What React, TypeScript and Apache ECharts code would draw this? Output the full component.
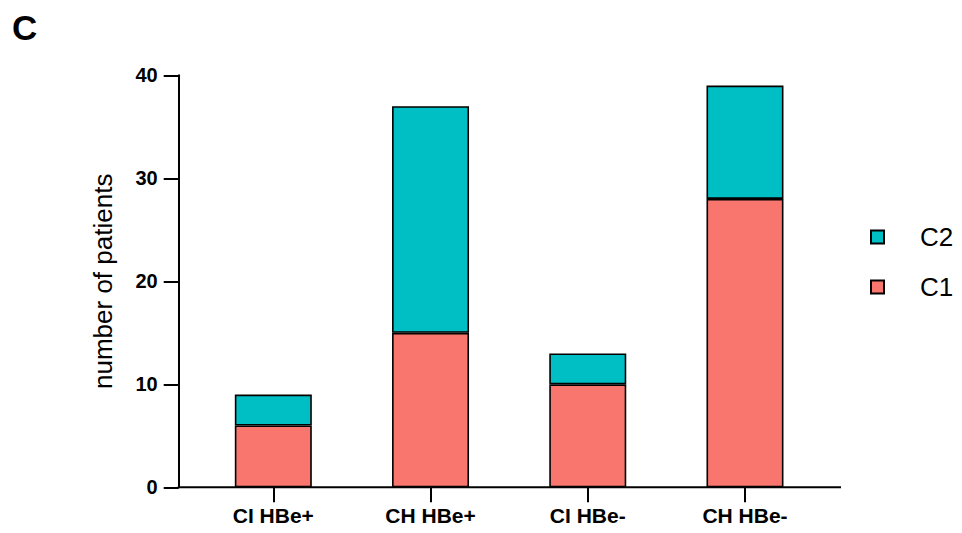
import React, { useEffect, useRef } from "react";
import * as echarts from "echarts";

const categories = ["CI HBe+", "CH HBe+", "CI HBe-", "CH HBe-"];
const c1Values = [6, 15, 10, 28];
const c2Values = [3, 22, 3, 11];
const yTicks = [0, 10, 20, 30, 40];
const legendOrder = ["C2", "C1"];

const FONT = "'Liberation Sans', Arial, Helvetica, sans-serif";

const GRID_LEFT = 194.7;
const GRID_RIGHT = 138.4;
const GRID_TOP = 75.3;
const GRID_BOTTOM = 45.7;
const AXIS_X0 = 178.7;
const AXIS_X1 = 841;

export default function App() {
  const ref = useRef<HTMLDivElement>(null);
  useEffect(() => {
    if (!ref.current) return;
    const chart = echarts.init(ref.current, null, { renderer: "svg" });
    const axisY = 533 - GRID_BOTTOM;
    chart.setOption({
      animation: false,
      backgroundColor: "#ffffff",
      title: {
        text: "C",
        left: 7,
        top: 5,
        textStyle: { fontFamily: FONT, fontWeight: "bold", fontSize: 35, color: "#000" },
      },
      legend: {
        data: legendOrder,
        orient: "vertical",
        left: 865,
        top: 219,
        itemWidth: 13,
        itemHeight: 13,
        itemGap: 24,
        icon: "rect",
        textStyle: {
          fontFamily: FONT,
          fontSize: 26,
          lineHeight: 26,
          color: "#000",
          padding: [0, 0, 0, 31],
        },
      },
      grid: { left: GRID_LEFT, right: GRID_RIGHT, top: GRID_TOP, bottom: GRID_BOTTOM, containLabel: false },
      graphic: [
        {
          type: "line",
          shape: { x1: AXIS_X0 - 1, y1: axisY, x2: AXIS_X1, y2: axisY },
          style: { stroke: "#000", lineWidth: 2 },
          z: 10,
        },
      ],
      xAxis: {
        type: "category",
        data: categories,
        axisLine: { show: false },
        axisTick: {
          show: true,
          alignWithLabel: true,
          length: 15,
          lineStyle: { color: "#000", width: 2 },
        },
        axisLabel: {
          fontFamily: FONT,
          fontWeight: "bold",
          fontSize: 21,
          color: "#000",
          margin: 18,
        },
      },
      yAxis: {
        type: "value",
        min: yTicks[0],
        max: yTicks[yTicks.length - 1],
        interval: 10,
        offset: GRID_LEFT - AXIS_X0,
        name: "number of patients",
        nameLocation: "middle",
        nameRotate: 90,
        nameGap: 79 - (GRID_LEFT - AXIS_X0),
        nameTextStyle: { fontFamily: FONT, fontSize: 26, color: "#000" },
        splitLine: { show: false },
        axisLine: { show: true, lineStyle: { color: "#000", width: 2 } },
        axisTick: { show: true, length: 15, lineStyle: { color: "#000", width: 2 } },
        axisLabel: {
          fontFamily: FONT,
          fontWeight: "bold",
          fontSize: 20,
          color: "#000",
          margin: 21,
        },
      },
      series: [
        {
          name: "C1",
          type: "bar",
          stack: "total",
          barWidth: 77,
          data: c1Values,
          itemStyle: { color: "#F8766D", borderColor: "#000", borderWidth: 1.6 },
        },
        {
          name: "C2",
          type: "bar",
          stack: "total",
          barWidth: 77,
          data: c2Values,
          itemStyle: { color: "#00BFC4", borderColor: "#000", borderWidth: 1.6 },
        },
      ],
    });
    return () => chart.dispose();
  }, []);
  return <div ref={ref} style={{ width: 962, height: 533, position: "absolute", left: 0, top: 0 }} />;
}
